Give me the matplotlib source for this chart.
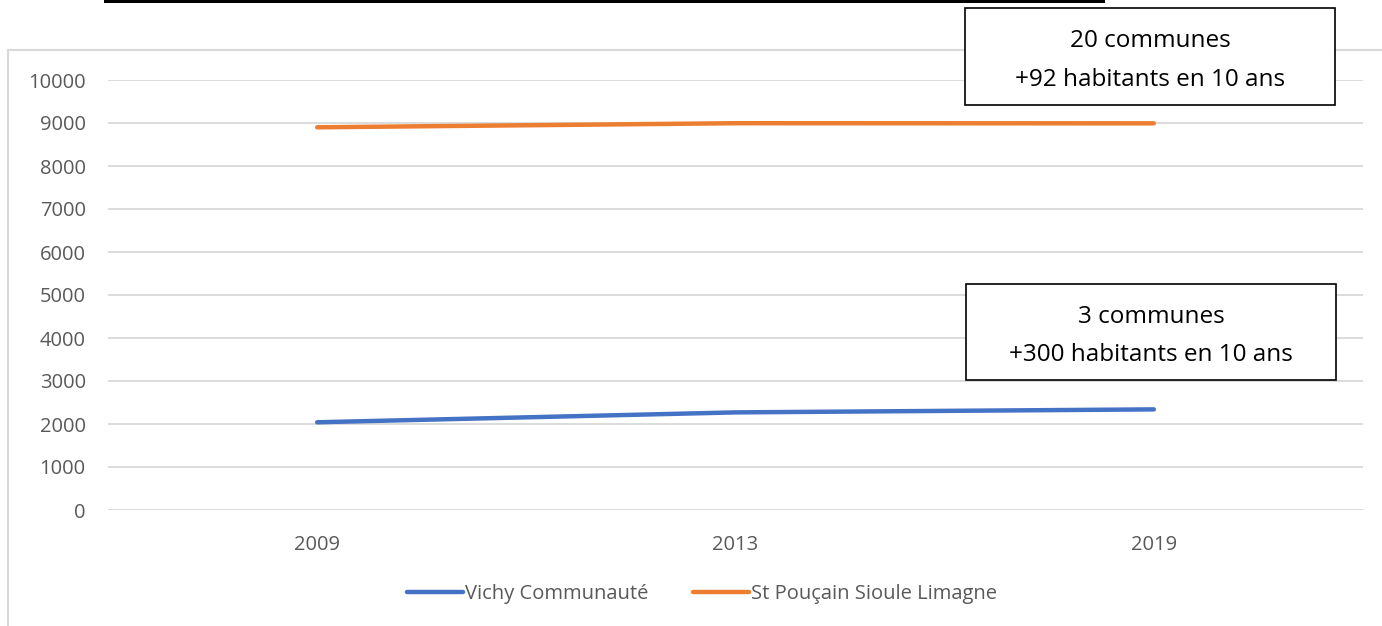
import matplotlib.pyplot as plt
from matplotlib.patches import Rectangle

# data
years = ["2009", "2013", "2019"]
vichy = [2040, 2270, 2340]
st_pourcain = [8900, 8995, 8992]
series_names = ["Vichy Communauté", "St Pouçain Sioule Limagne"]
box_texts = ["20 communes\n+92 habitants en 10 ans", "3 communes\n+300 habitants en 10 ans"]

W, H = 1382, 626
fig = plt.figure(figsize=(W / 100, H / 100), dpi=100)
plt.rcParams['font.family'] = ['Open Sans', 'DejaVu Sans']

# plot area in pixels: x 108..1363, y 80 (10000)..510 (0)
ax = fig.add_axes([108 / W, 1 - 510 / H, (1363 - 108) / W, (510 - 80) / H])
ax.set_xlim(-0.5, 2.5)
ax.set_ylim(0, 10000)

x = range(len(years))
ax.plot(x, vichy, color="#4472c4", lw=3.2, solid_capstyle="round", label=series_names[0])
ax.plot(x, st_pourcain, color="#ed7d31", lw=3.2, solid_capstyle="round", label=series_names[1])

ax.set_yticks(range(0, 10001, 1000))
ax.set_xticks(list(x))
ax.set_xticklabels(years)
ax.yaxis.grid(True, color="#d9d9d9", lw=1.3)
ax.set_axisbelow(True)
for s in ax.spines.values():
    s.set_visible(False)
ax.tick_params(length=0, colors="#595959", labelsize=14.5)
ax.tick_params(axis="y", pad=16)
ax.tick_params(axis="x", pad=18)

leg = fig.legend(loc="center", bbox_to_anchor=(702 / W, 1 - 594 / H), ncol=2, frameon=False,
                 fontsize=14.5, handlelength=2.8, handletextpad=0.1, columnspacing=2.2)
for t in leg.get_texts():
    t.set_color("#595959")

# chart border
fig.add_artist(Rectangle((8 / W, -0.05), 1.1, 1 - 50 / H + 0.05, transform=fig.transFigure,
                         fill=False, edgecolor="#d9d9d9", lw=1.5))
# black bar at top
fig.add_artist(Rectangle((104 / W, 1 - 3 / H), (1105 - 104) / W, 3 / H + 0.01, transform=fig.transFigure,
                         facecolor="black", edgecolor="none"))

# annotation boxes
boxes = [(965, 8, 1335, 105), (966, 284, 1336, 380)]
for (x0, y0, x1, y1), txt in zip(boxes, box_texts):
    fig.add_artist(Rectangle((x0 / W, 1 - y1 / H), (x1 - x0) / W, (y1 - y0) / H, transform=fig.transFigure,
                             facecolor="white", edgecolor="black", lw=1.2, zorder=5))
    fig.text((x0 + x1) / 2 / W, 1 - ((y0 + y1) / 2 + 4) / H, txt, ha="center", va="center",
             fontsize=17.5, linespacing=1.8, color="black", zorder=6)

fig.savefig("out.png", dpi=100)
